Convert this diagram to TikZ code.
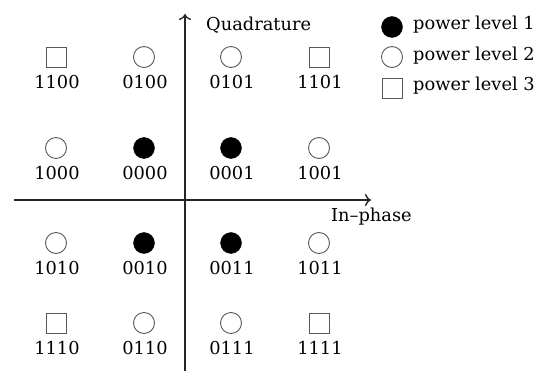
\documentclass[tikz,border=0pt]{standalone}
\usepackage{fontspec}
\setmainfont{DejaVu Serif}
\usetikzlibrary{arrows.meta}
\begin{document}
\begin{tikzpicture}[x=1pt,y=-1pt,
  font=\fontsize{17.8}{20}\selectfont,
  axis/.style={line width=1.4pt,draw=black!85,-{To[length=6pt,width=12pt]}},
  lvlone/.style={circle,fill=black,draw=black,minimum size=21pt,inner sep=0pt},
  lvltwo/.style={circle,draw=black!65,line width=0.9pt,minimum size=21pt,inner sep=0pt},
  lvlthree/.style={rectangle,draw=black!65,line width=0.9pt,minimum size=20pt,inner sep=0pt},
  bits/.style={inner sep=0pt,anchor=center},
  legtext/.style={inner sep=0pt,anchor=west}]
\useasboundingbox (0,0) rectangle (537,371);
% axes
\coordinate (yb) at (185,371);
\coordinate (yt) at (185,14);
\coordinate (xl) at (14,200);
\coordinate (xr) at (371,200);
\draw[axis] (yb) -- (yt);
\draw[axis] (xl) -- (xr);
\node[legtext] (qlab) at (206,25) {Quadrature};
\node[legtext] (ilab) at (331,217) {In–phase};
% constellation points
\foreach \sty/\code/\x/\y in {
  lvlthree/1100/56/57, lvltwo/0100/144/57, lvltwo/0101/231/57, lvlthree/1101/319/57,
  lvltwo/1000/56/148, lvlone/0000/144/148, lvlone/0001/231/148, lvltwo/1001/319/148,
  lvltwo/1010/56/243, lvlone/0010/144/243, lvlone/0011/231/243, lvltwo/1011/319/243,
  lvlthree/1110/56/323, lvltwo/0110/144/323, lvltwo/0111/231/323, lvlthree/1111/319/323}{
  \node[\sty] (s\code) at (\x,\y) {};
  \node[bits] (l\code) at (\x+1,\y+25) {\code};
}
% legend
\node[lvlone] (k1) at (392,27) {};
\node[lvltwo] (k2) at (392,57) {};
\node[lvlthree] (k3) at (392,88) {};
\node[legtext] (t1) at (413,25) {power level 1};
\node[legtext] (t2) at (413,56) {power level 2};
\node[legtext] (t3) at (413,86) {power level 3};
\end{tikzpicture}
\end{document}
